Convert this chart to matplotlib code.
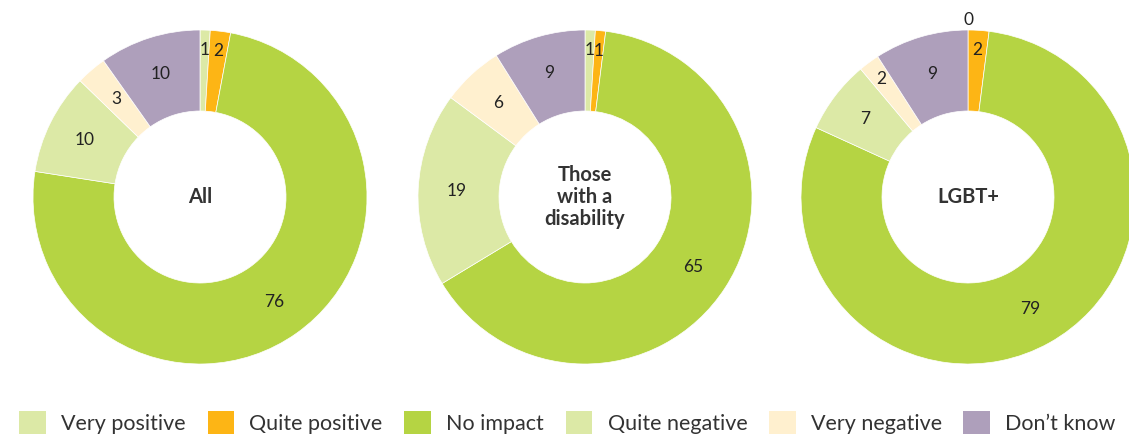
import numpy as np
import matplotlib
matplotlib.use("Agg")
import matplotlib.pyplot as plt
from matplotlib.patches import Rectangle

plt.rcParams["font.family"] = ["Lato", "DejaVu Sans"]

categories = ["Very positive", "Quite positive", "No impact",
              "Quite negative", "Very negative", "Don\u2019t know"]
colors = ["#DCE9A6", "#FDB515", "#B5D443", "#DCE9A6", "#FFF0CF", "#AE9FBB"]

groups = ["All", "Those\nwith a\ndisability", "LGBT+"]
all_vals = [1, 2, 76, 10, 3, 10]
disability_vals = [1, 1, 65, 19, 6, 9]
lgbt_vals = [0, 2, 79, 7, 2, 9]
series = [all_vals, disability_vals, lgbt_vals]

W, H = 1129, 434
R = 167            # outer radius in px
centres = [(200, 197), (585, 197), (968, 197)]
ring = 0.485       # ring width as share of radius
pad = 1.2          # axes half-extent in radius units

fig = plt.figure(figsize=(W / 100, H / 100), dpi=100)

for (cx, cy), name, vals in zip(centres, groups, series):
    half = pad * R
    ax = fig.add_axes([(cx - half) / W, (H - cy - half) / H, 2 * half / W, 2 * half / H])
    ax.pie(vals, colors=colors, startangle=90, counterclock=False, radius=1,
           wedgeprops=dict(width=ring, edgecolor="white", linewidth=0.5))
    ax.set_xlim(-pad, pad)
    ax.set_ylim(-pad, pad)
    ax.set_aspect("equal")
    ax.axis("off")

    total = sum(vals)
    cum = 0
    for v in vals:
        mid = (cum + v / 2) / total * 2 * np.pi
        cum += v
        if v == 0:
            r = 1.06
        elif v <= 2:
            r = 0.88
        else:
            r = 0.77
        ax.text(r * np.sin(mid), r * np.cos(mid), f"{v}", ha="center", va="center",
                fontsize=12.5, color="#222222")
    ax.text(0, 0, name, ha="center", va="center", fontsize=14.5, fontweight="bold",
            color="#333333", linespacing=1.15)

handles = [Rectangle((0, 0), 1, 1, facecolor=c, edgecolor="none") for c in colors]
fig.legend(handles, categories, loc="lower left", bbox_to_anchor=(0.0, -0.045),
           ncol=6, frameon=False, fontsize=15.5, handlelength=1.25, handleheight=1.25,
           handletextpad=0.7, columnspacing=1.0, labelcolor="#333333")

fig.savefig("out.png", dpi=100)
